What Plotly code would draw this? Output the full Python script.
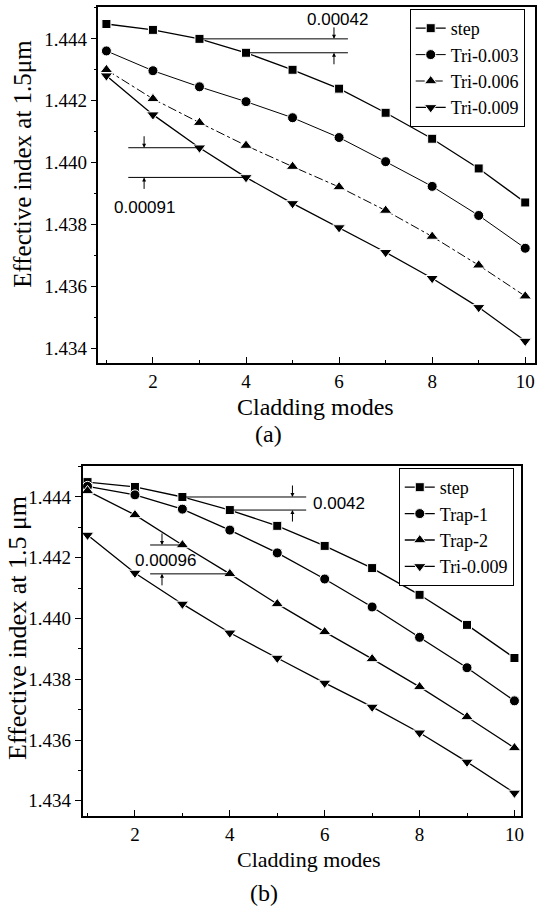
import plotly.graph_objects as go

# ---------------- data ----------------
modes = [1, 2, 3, 4, 5, 6, 7, 8, 9, 10]

# panel (a)
a_step = [1.44448, 1.44429, 1.44400, 1.44355, 1.44300, 1.44239, 1.44161, 1.44077, 1.43981, 1.43871]
a_tri003 = [1.44361, 1.44297, 1.44245, 1.44197, 1.44145, 1.44081, 1.44003, 1.43923, 1.43829, 1.43723]
a_tri006 = [1.44300, 1.44206, 1.44129, 1.44055, 1.43987, 1.43921, 1.43845, 1.43761, 1.43668, 1.43568]
a_tri009 = [1.44281, 1.44155, 1.44048, 1.43952, 1.43868, 1.43790, 1.43710, 1.43626, 1.43532, 1.43423]
a_names = ["step", "Tri-0.003", "Tri-0.006", "Tri-0.009"]

# panel (b)
b_step = [1.44449, 1.44433, 1.44400, 1.44357, 1.44305, 1.44239, 1.44166, 1.44078, 1.43979, 1.43870]
b_trap1 = [1.44435, 1.44407, 1.44360, 1.44291, 1.44216, 1.44130, 1.44038, 1.43938, 1.43838, 1.43729]
b_trap2 = [1.44420, 1.44341, 1.44242, 1.44147, 1.44048, 1.43956, 1.43867, 1.43775, 1.43676, 1.43574]
b_tri009 = [1.44275, 1.44150, 1.44048, 1.43953, 1.43870, 1.43788, 1.43709, 1.43624, 1.43528, 1.43426]
b_names = ["step", "Trap-1", "Trap-2", "Tri-0.009"]

label_a_diff = "0.00042"
label_a_diff2 = "0.00091"
label_b_diff = "0.0042"
label_b_diff2 = "0.00096"

# ---------------- figure ----------------
SERIF = "Liberation Serif"
SANS = "Liberation Sans"
W, H = 539, 907

fig = go.Figure()

symbols = ["square", "circle", "triangle-up", "triangle-down"]
sizes = [9, 10, 11, 11]

a_dash = ["solid", "solid", "dashdot", "solid"]
a_width = [1.3, 1.0, 1.0, 1.3]
for name, vals, sym, sz, dash, lw in zip(a_names, [a_step, a_tri003, a_tri006, a_tri009],
                                         symbols, sizes, a_dash, a_width):
    fig.add_trace(go.Scatter(
        x=modes, y=vals, name=name, mode="lines+markers",
        line=dict(color="black", width=lw, dash=dash),
        marker=dict(symbol=sym, size=sz, color="black", line=dict(color="white", width=1)),
        xaxis="x", yaxis="y", legend="legend"))

for name, vals, sym, sz in zip(b_names, [b_step, b_trap1, b_trap2, b_tri009], symbols, sizes):
    fig.add_trace(go.Scatter(
        x=modes, y=vals, name=name, mode="lines+markers",
        line=dict(color="black", width=1.3),
        marker=dict(symbol=sym, size=sz, color="black", line=dict(color="white", width=1)),
        xaxis="x2", yaxis="y2", legend="legend2"))

def xax(domain, rng, anchor):
    return dict(domain=domain, range=rng, anchor=anchor, dtick=2, tick0=0,
                ticks="inside", ticklen=6, tickwidth=1, tickcolor="black",
                minor=dict(dtick=1, ticks="inside", ticklen=3, tickcolor="black"),
                showline=True, linecolor="black", linewidth=1.5, mirror=True,
                showgrid=False, zeroline=False, ticklabelstandoff=0,
                tickfont=dict(family=SERIF, size=19, color="black"))

def yax(domain, rng, anchor):
    return dict(domain=domain, range=rng, anchor=anchor, dtick=0.002, tick0=1.434,
                tickformat=".3f", ticks="outside", ticklen=6, tickwidth=1, tickcolor="black",
                minor=dict(dtick=0.001, ticks="outside", ticklen=3, tickcolor="black"),
                showline=True, linecolor="black", linewidth=1.5, mirror=True,
                showgrid=False, zeroline=False,
                tickfont=dict(family=SERIF, size=19, color="black"))

fig.update_layout(
    width=W, height=H, margin=dict(l=0, r=0, t=0, b=0),
    paper_bgcolor="white", plot_bgcolor="white",
    xaxis=xax([99 / W, 538 / W], [0.829, 10.21], "y"),
    yaxis=yax([1 - 363 / H, 1 - 7 / H], [1.43352, 1.44503], "x"),
    xaxis2=xax([83 / W, 524 / W], [0.895, 10.14], "y2"),
    yaxis2=yax([1 - 816 / H, 1 - 466 / H], [1.4335, 1.44502], "x2"),
    legend=dict(x=412 / W, y=1 - 9 / H, xanchor="left", yanchor="top",
                bordercolor="black", borderwidth=1, bgcolor="white",
                font=dict(family=SERIF, size=18, color="black")),
    legend2=dict(x=401 / W, y=1 - 468 / H, xanchor="left", yanchor="top",
                 bordercolor="black", borderwidth=1, bgcolor="white",
                 font=dict(family=SERIF, size=18, color="black")),
)

# ---- dimension markers ----
def hline(xr, yr, x0, x1, y):
    fig.add_shape(type="line", xref=xr, yref=yr, x0=x0, x1=x1, y0=y, y1=y,
                  line=dict(color="black", width=1))

def arrow(xr, yr, x, y, ay):
    fig.add_annotation(xref=xr, yref=yr, x=x, y=y, ax=0, ay=ay, text="",
                       showarrow=True, arrowhead=2, arrowsize=0.8, arrowwidth=1,
                       arrowcolor="black")

def label(xr, yr, x, y, txt):
    fig.add_annotation(xref=xr, yref=yr, x=x, y=y, text=txt, showarrow=False,
                       font=dict(family=SANS, size=17, color="black"))

# panel (a)
hline("x", "y", 3, 6.19, a_step[2])
hline("x", "y", 4, 6.19, a_step[3])
arrow("x", "y", 5.89, a_step[2], -13)
arrow("x", "y", 5.89, a_step[3], 13)
label("x", "y", 5.96, 1.44463, label_a_diff)

hline("x", "y", 1.47, 3, a_tri009[2])
hline("x", "y", 1.47, 4, a_tri009[3])
arrow("x", "y", 1.81, a_tri009[2], -13)
arrow("x", "y", 1.81, a_tri009[3], 13)
label("x", "y", 1.81, 1.43855, label_a_diff2)

# panel (b)
hline("x2", "y2", 3, 5.61, b_step[2])
hline("x2", "y2", 4, 5.61, b_step[3])
arrow("x2", "y2", 5.32, b_step[2], -13)
arrow("x2", "y2", 5.32, b_step[3], 13)
label("x2", "y2", 6.30, 1.4438, label_b_diff)

hline("x2", "y2", 2.32, 3, b_trap2[2])
hline("x2", "y2", 2.32, 4, b_trap2[3])
arrow("x2", "y2", 2.57, b_trap2[2], -13)
arrow("x2", "y2", 2.57, b_trap2[3], 13)
label("x2", "y2", 2.64, 1.44190, label_b_diff2)

# ---- axis titles & panel labels ----
def ptext(px, py, txt, size, angle=0):
    fig.add_annotation(xref="paper", yref="paper", x=px / W, y=1 - py / H, text=txt,
                       showarrow=False, textangle=angle, xanchor="center", yanchor="middle",
                       font=dict(family=SERIF, size=size, color="black"))

ptext(317, 407, "Cladding modes", 24)
ptext(270, 434, "(a)", 24)
ptext(23, 164, "Effective index at 1.5μm", 25, -90)

ptext(311, 859, "Cladding modes", 22)
ptext(265, 893, "(b)", 24)
ptext(17, 628, "Effective index at 1.5 μm", 26, -90)

fig.write_html("out.html")
